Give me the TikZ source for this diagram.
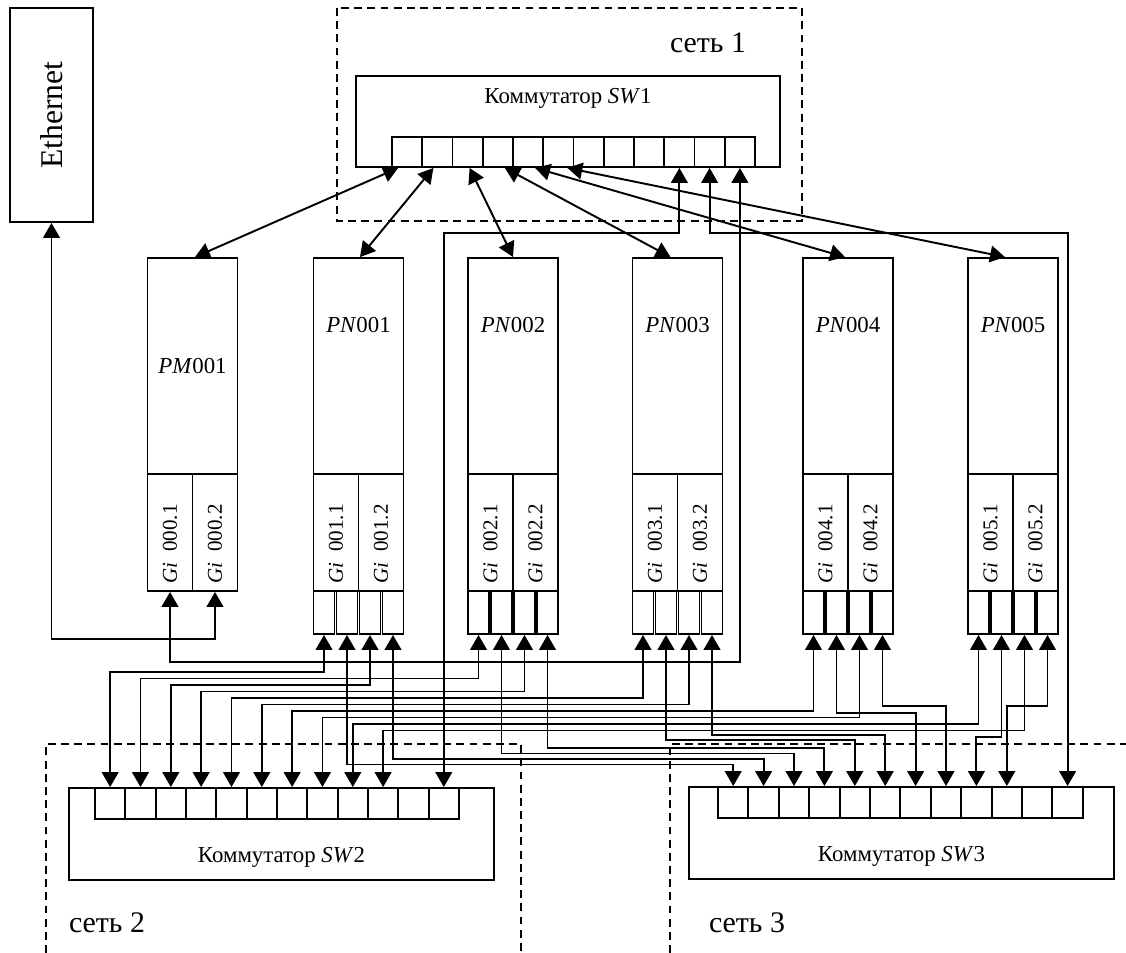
\documentclass[tikz,border=0pt]{standalone}
\usepackage{fontspec}
\setmainfont{Liberation Serif}
\usepackage{graphicx}
\usetikzlibrary{arrows.meta}
\tikzset{
  unitbox/.style={draw, line width=1.1pt, minimum width=1.8cm, minimum height=4.32cm,
    inner sep=0pt, font=\fontsize{13}{15}\selectfont},
  gicell/.style={draw, line width=1.1pt, minimum width=0.9cm, minimum height=2.34cm,
    inner sep=0pt, font=\fontsize{12}{14}\selectfont},
  pnport/.style={draw, line width=1.1pt, minimum width=0.42cm, minimum height=0.86cm, inner sep=0pt},
  swbox/.style={draw, line width=1.1pt, minimum width=8.5cm, minimum height=1.84cm, inner sep=0pt},
  swport/.style={draw, line width=1.1pt, minimum width=0.606cm, minimum height=0.62cm, inner sep=0pt},
  link/.style={{Triangle[length=8.5pt,width=9.5pt]}-{Triangle[length=8.5pt,width=9.5pt]}, line width=1.1pt},
  netframe/.style={line width=0.9pt, dash pattern=on 4.5pt off 3pt},
  swtitle/.style={font=\fontsize{13}{15}\selectfont},
  netlabel/.style={font=\fontsize{17}{20}\selectfont},
}
\begin{document}
\begin{tikzpicture}[x=0.02cm, y=-0.02cm]
  \useasboundingbox (0,0) rectangle (1126,953);

  % Network frames
  \draw[netframe] (337,8) rectangle (802,221);
  \draw[netframe] (46,953) -- (46,744) -- (521,744) -- (521,953);
  \draw[netframe] (670,953) -- (670,744) -- (1126,744);
  \node[netlabel] (net1) at (708,43) {сеть 1};
  \node[netlabel] (net2) at (107,923) {сеть 2};
  \node[netlabel] (net3) at (747,923) {сеть 3};

  % Ethernet
  \node[draw, line width=1.1pt, minimum width=1.66cm, minimum height=4.28cm, inner sep=0pt] (eth)
    at (51.5,115) {\rotatebox{90}{\fontsize{18}{20}\selectfont Ethernet}};

  % Switches
  \node[swbox, minimum width=8.48cm, minimum height=1.82cm] (sw1) at (568,121.5) {};
  \node[swtitle] (sw1t) at (568,98) {Коммутатор \textit{SW}1};
  \foreach \i in {1,...,12}
    \node[swport, minimum height=0.6cm] (s1p\i) at (376.875+30.25*\i,152) {};

  \node[swbox] (sw2) at (281.5,834) {};
  \node[swtitle] (sw2t) at (281.5,857.5) {Коммутатор \textit{SW}2};
  \foreach \i in {1,...,12}
    \node[swport] (s2p\i) at (79.83+30.33*\i,803.5) {};

  \node[swbox] (sw3) at (901.5,833) {};
  \node[swtitle] (sw3t) at (901.5,856.5) {Коммутатор \textit{SW}3};
  \foreach \i in {1,...,12}
    \node[swport] (s3p\i) at (702.8+30.4*\i,802.5) {};

  % Management node
  \node[unitbox] (pm) at (192.5,366) {\textit{PM}001};
  \node[gicell] (pmga) at (170,532.5) {\rotatebox{90}{\textit{Gi}\ \ 000.1\hspace{0.45cm}}};
  \node[gicell] (pmgb) at (215,532.5) {\rotatebox{90}{\textit{Gi}\ \ 000.2\hspace{0.45cm}}};

  % Processing nodes
  \foreach \n/\cx in {1/358.5, 2/513, 3/677.5, 4/848, 5/1013} {
    \node[unitbox] (pn\n) at (\cx,366) {};
    \node[swtitle] (pnt\n) at (\cx,325) {\textit{PN}00\n};
    \node[gicell] (gi\n1) at (\cx-22.5,532.5) {\rotatebox{90}{\textit{Gi}\ \ 00\n.1\hspace{0.45cm}}};
    \node[gicell] (gi\n2) at (\cx+22.5,532.5) {\rotatebox{90}{\textit{Gi}\ \ 00\n.2\hspace{0.45cm}}};
    \foreach \k in {1,...,4}
      \node[pnport] (pt\n\k) at (\cx-57.5+23*\k,612.5) {};
  }

  % SW1 -- nodes
  \foreach \p/\u/\a/\b in {1/pm/-9/2.5, 2/pn1/-4/1.5, 3/pn2/2/0, 4/pn3/7/-7, 5/pn4/7/-3, 6/pn5/9/-8}
    \draw[link] ([xshift=\a*0.02cm]s1p\p.south) -- ([xshift=\b*0.02cm]\u.north);
  \draw[link] (s1p10.south) -- ++(0,65) -| (s2p12.north);
  \draw[link] (s1p11.south) -- ++(0,65) -| (s3p12.north);
  \draw[link] (s1p12.south) -- ++(0,494) -| (pmga.south);
  \draw[link] (eth.south) -- ++(0,416) -| (pmgb.south);

  % node ports -- SW2, SW3
  \foreach \a/\b/\d in {pt11/s2p1/37, pt21/s2p2/43.5, pt13/s2p3/50, pt23/s2p4/56.5,
      pt31/s2p5/63, pt33/s2p6/69.5, pt41/s2p7/76, pt43/s2p8/82.5, pt51/s2p9/89, pt53/s2p10/95.5,
      pt12/s3p1/129.5, pt14/s3p2/124, pt22/s3p3/118.5, pt24/s3p4/113, pt32/s3p5/105,
      pt34/s3p6/100, pt42/s3p7/78, pt44/s3p8/71, pt52/s3p9/102, pt54/s3p10/71}
    \draw[link] (\a.south) -- ++(0,\d) -| (\b.north);
\end{tikzpicture}
\end{document}
